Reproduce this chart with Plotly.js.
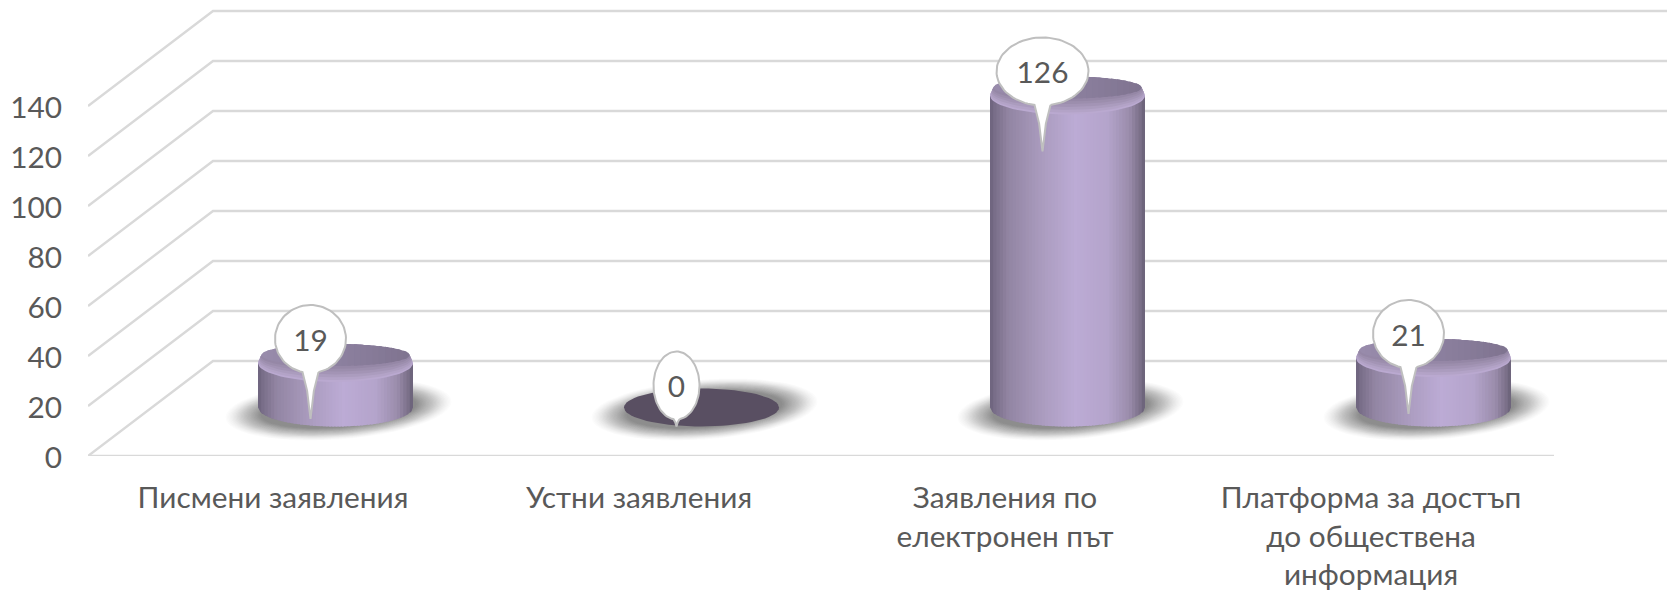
<!DOCTYPE html>
<html><head><meta charset="utf-8">
<script src="https://cdn.plot.ly/plotly-3.0.1.min.js"></script>
<style>html,body{margin:0;padding:0;background:#fff}#c{width:1667px;height:591px}</style>
</head><body><div id="c"></div>
<script>
const categories = ['Писмени заявления','Устни заявления','Заявления по<br>електронен път','Платформа за достъп<br>до обществена<br>информация'];
const values = [19, 0, 126, 21];
const yTicks = [0,20,40,60,80,100,120,140];
const positions = [0,1,2,3];

const pxX = 366, pxY = 2.5;            // pixels per data unit
const dx = p => p / pxX, dy = p => p / pxY;
const TEXT = '#595959', GRID = '#d9d9d9';
const FONT = 'Lato, "Open Sans", sans-serif';
const FS = 29.8;
const W = 1667, H = 591, L = 88, B = 135;
const xMin = -0.5 - dx(2), xMax = xMin + (W - L) / pxX;
const depthX = dx(125), depthY = dy(95);
const shiftX = depthX / 2, baseY = dy(48.5);
const RX = 77.5, RY = 19;

const traces = [];
function ellipsePts(cx, cy, rx, ry, n, tilt) {
  const xs = [], ys = [];
  for (let i = 0; i <= n; i++) {
    const a = 2 * Math.PI * i / n;
    const ox = rx * Math.cos(a);
    xs.push(cx + dx(ox)); ys.push(cy + dy(ry * Math.sin(a) + (tilt || 0) * ox));
  }
  return [xs, ys];
}
function fillTrace(xs, ys, color) {
  traces.push({type:'scatter', mode:'lines', x:xs, y:ys, fill:'toself', fillcolor:color,
    line:{width:0, color:color}, hoverinfo:'skip', showlegend:false});
}
function lerpColor(stops, t) {
  for (let i = 1; i < stops.length; i++) {
    if (t <= stops[i][0]) {
      const a = stops[i-1], b = stops[i], f = (t - a[0]) / (b[0] - a[0]);
      const c = [0,1,2].map(k => Math.round(a[1][k] + (b[1][k] - a[1][k]) * f));
      return `rgb(${c[0]},${c[1]},${c[2]})`;
    }
  }
  const l = stops[stops.length-1][1];
  return `rgb(${l[0]},${l[1]},${l[2]})`;
}

traces.push({type:'bar', x:positions.map(p => p + shiftX), y:values, base:values.map(() => baseY),
  width:dx(RX * 2 - 8), marker:{color:'#a99ab9', line:{width:0}}, hoverinfo:'skip', showlegend:false});

yTicks.forEach(v => {
  traces.push({type:'scatter', mode:'lines', x:[xMin, xMin + depthX, xMax], y:[v, v + depthY, v + depthY],
    line:{color:GRID, width:2.4}, hoverinfo:'skip', showlegend:false, cliponaxis:false});
});
traces.push({type:'scatter', mode:'lines', x:[-0.5, 3.5], y:[0, 0],
  line:{color:GRID, width:2.4}, hoverinfo:'skip', showlegend:false});

/* soft shadows: many faint nested tilted ellipses */
const SH = 26;
for (let k = 0; k < SH; k++) {
  const f = k / (SH - 1);
  const xs = [], ys = [];
  positions.forEach(p => {
    const [ex, ey] = ellipsePts(p + shiftX + dx(3), baseY - dy(2), 113 - 35 * f, 30 - 12 * f, 48, 0.07);
    xs.push(...ex, null); ys.push(...ey, null);
  });
  fillTrace(xs, ys, 'rgba(50,50,50,' + (0.014 + 0.028 * f).toFixed(3) + ')');
}

const sideStops = [[0,[108,98,124]],[0.04,[124,113,140]],[0.12,[146,133,163]],[0.33,[170,155,190]],
  [0.55,[188,171,213]],[0.76,[180,164,203]],[0.9,[154,140,171]],[0.97,[122,111,136]],[1,[104,95,118]]];
const N = 48;
for (let i = 0; i < N; i++) {
  const t1 = i / N, t2 = Math.min(1, (i + 1.6) / N);
  const xs = [], ys = [];
  positions.forEach((p, j) => {
    const v = values[j];
    if (v <= 0) return;
    const cx = p + shiftX, top = baseY + v - dy(3);
    const a = (t) => { const u = 2*t - 1; return [cx + dx(RX*u), dy(RY * Math.sqrt(Math.max(0, 1 - u*u)))]; };
    const [x1, s1] = a(t1), [x2, s2] = a(t2);
    const [xm, sm] = a((t1 + t2) / 2);
    xs.push(x1, xm, x2, x2, x1, x1, null);
    ys.push(baseY - s1, baseY - sm, baseY - s2, top, top, baseY - s1, null);
  });
  fillTrace(xs, ys, lerpColor(sideStops, (t1 + t1 + 1/N) / 2));
}

const rim = [[0,'#baa9d0'],[1,'#b3a3c7'],[2.4,'#ab9cbe'],[3.8,'#a394b5'],[5.2,'#9c8ead'],[6.6,'#9587a6']];
rim.forEach(([k, col]) => {
  const xs = [], ys = [];
  positions.forEach((p, j) => {
    if (values[j] <= 0) return;
    const top = baseY + values[j] - dy(3);
    const [ex, ey] = ellipsePts(p + shiftX, top + dy(k), RX - k * 0.4, RY - k, 72);
    xs.push(...ex, null); ys.push(...ey, null);
  });
  fillTrace(xs, ys, col);
});
const capStops = [[0,[152,139,171]],[0.35,[144,131,163]],[0.7,[135,123,153]],[1,[126,115,142]]];
const CN = 24, KC = 8;
for (let i = 0; i < CN; i++) {
  const t1 = i / CN, t2 = Math.min(1, (i + 1.5) / CN);
  const xs = [], ys = [];
  positions.forEach((p, j) => {
    if (values[j] <= 0) return;
    const cx = p + shiftX, cy = baseY + values[j] - dy(3) + dy(KC);
    const rx = RX - KC * 0.4, ry = RY - KC;
    const pts = [];
    for (let q = 0; q <= 4; q++) {
      const u = 2 * (t1 + (t2 - t1) * q / 4) - 1;
      pts.push([u, Math.sqrt(Math.max(0, 1 - u*u))]);
    }
    pts.forEach(([u, s]) => { xs.push(cx + dx(rx*u)); ys.push(cy + dy(ry*s)); });
    pts.slice().reverse().forEach(([u, s]) => { xs.push(cx + dx(rx*u)); ys.push(cy - dy(ry*s)); });
    xs.push(null); ys.push(null);
  });
  fillTrace(xs, ys, lerpColor(capStops, t1));
}

positions.forEach((p, j) => {
  if (values[j] > 0) return;
  const [ex, ey] = ellipsePts(p + shiftX, baseY, RX, RY, 72);
  fillTrace(ex, ey, '#594f62');
});

const calloutX = [], calloutY = [], calloutT = [];
positions.forEach((p, j) => {
  const v = values[j], label = String(v);
  const top = v > 0 ? baseY + v - dy(3) : baseY;
  const cx = p + shiftX - dx(25);
  const rx = [23, 35.5, 46][label.length - 1], ry = 34;
  const cy = top + dy(v > 0 ? 24 : 22);
  const tip = v > 0 ? top - dy(56) : top - dy(19);
  const hw = v > 0 ? 8 : 3;
  const start = Math.asin(hw / rx);
  const xs = [], ys = [];
  const n = 80;
  for (let i = 0; i <= n; i++) {
    const a = -Math.PI / 2 + start + (2 * Math.PI - 2 * start) * i / n;
    xs.push(cx + dx(rx * Math.cos(a))); ys.push(cy + dy(ry * Math.sin(a)));
  }
  const yb = cy - dy(ry * Math.cos(start));
  xs.push(cx - dx(hw * 0.42), cx, cx + dx(hw * 0.42), xs[0]);
  ys.push(yb + (tip - yb) * 0.4, tip, yb + (tip - yb) * 0.4, ys[0]);
  traces.push({type:'scatter', mode:'lines', x:xs, y:ys, fill:'toself', fillcolor:'#ffffff',
    line:{color:'#bfbfbf', width:2}, hoverinfo:'skip', showlegend:false});
  calloutX.push(cx); calloutY.push(cy - dy(4.5)); calloutT.push(label);
});
traces.push({type:'scatter', mode:'text', x:calloutX, y:calloutY, text:calloutT, textposition:'middle center',
  textfont:{family:FONT, size:FS, color:TEXT}, hoverinfo:'skip', showlegend:false});

const layout = {
  width:W, height:H, autosize:false, showlegend:false, hovermode:false,
  paper_bgcolor:'#fff', plot_bgcolor:'#fff',
  margin:{l:L, r:0, t:0, b:B, pad:0},
  font:{family:FONT, color:TEXT},
  xaxis:{type:'linear', range:[xMin, xMax], tickmode:'array', tickvals:positions, ticktext:categories,
    showgrid:false, zeroline:false, showline:false, ticks:'outside', ticklen:15, tickcolor:'rgba(0,0,0,0)',
    tickangle:0, tickfont:{family:FONT, size:FS, color:TEXT}},
  yaxis:{range:[0, (H - B) / pxY], tickmode:'array', tickvals:yTicks, ticktext:yTicks.map(String),
    showgrid:false, zeroline:false, showline:false, ticks:'outside', ticklen:19, tickcolor:'rgba(0,0,0,0)',
    ticklabelshift:2, tickfont:{family:FONT, size:FS, color:TEXT}}
};
Plotly.newPlot('c', traces, layout, {displayModeBar:false, staticPlot:true});
</script></body></html>
